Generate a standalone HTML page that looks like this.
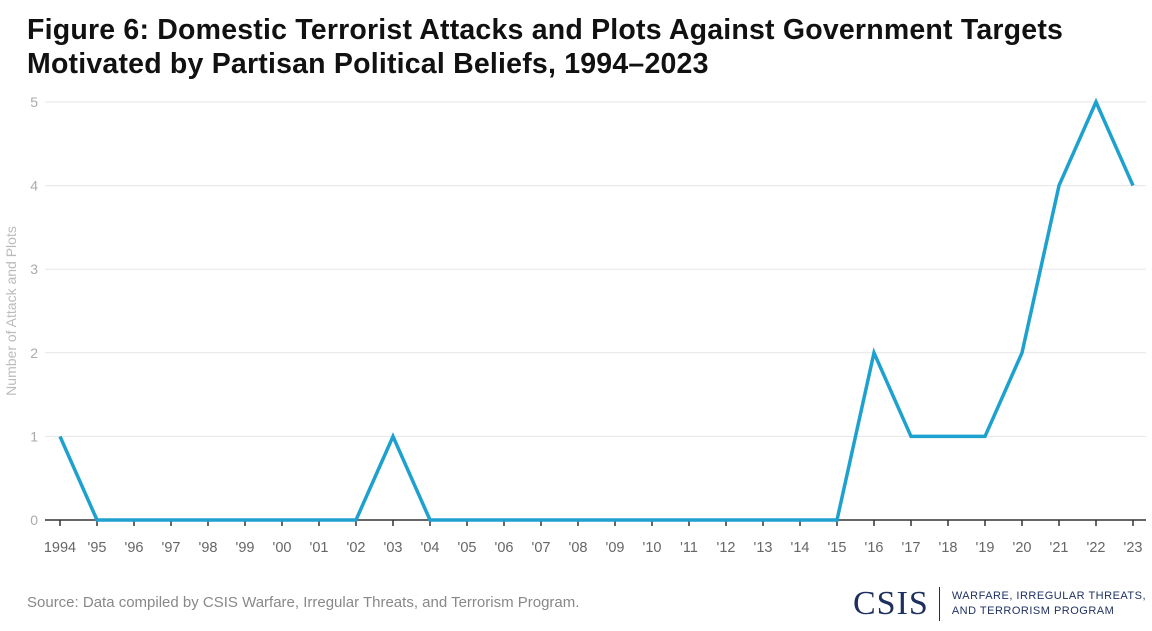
<!DOCTYPE html>
<html><head><meta charset="utf-8"><style>
body{margin:0;width:1152px;height:631px;background:#fff;font-family:"Liberation Sans",sans-serif;overflow:hidden;position:relative}
h1{position:absolute;left:27px;top:13px;margin:0;font-size:28.5px;line-height:34px;font-weight:bold;color:#111;letter-spacing:0.2px;white-space:nowrap}
#src{position:absolute;left:27px;top:594px;font-size:15px;color:#888}
#logo{position:absolute;left:853px;top:585px;display:flex;align-items:center;white-space:nowrap}
#csis{font-family:"Liberation Serif",serif;font-size:34px;color:#1d2f5e;letter-spacing:1px}
#bar{width:1px;height:34px;background:#1d2f5e;margin:0 12px 0 10px}
#prog{font-family:"Liberation Sans",sans-serif;font-size:11px;color:#1d2f5e;line-height:15px;letter-spacing:0.5px;white-space:nowrap}
</style></head><body>
<h1>Figure 6: Domestic Terrorist Attacks and Plots Against Government Targets<br>Motivated by Partisan Political Beliefs, 1994–2023</h1>
<svg id="chart" width="1152" height="580" style="position:absolute;left:0;top:0"></svg>
<div id="src">Source: Data compiled by CSIS Warfare, Irregular Threats, and Terrorism Program.</div>
<div id="logo"><span id="csis">CSIS</span><span id="bar"></span><span id="prog">WARFARE, IRREGULAR THREATS,<br>AND TERRORISM PROGRAM</span></div>
<script>
const years=[1994,1995,1996,1997,1998,1999,2000,2001,2002,2003,2004,2005,2006,2007,2008,2009,2010,2011,2012,2013,2014,2015,2016,2017,2018,2019,2020,2021,2022,2023];
const counts=[1,0,0,0,0,0,0,0,0,1,0,0,0,0,0,0,0,0,0,0,0,0,2,1,1,1,2,4,5,4];
const yTicks=[0,1,2,3,4,5];
const xLabels=["1994","'95","'96","'97","'98","'99","'00","'01","'02","'03","'04","'05","'06","'07","'08","'09","'10","'11","'12","'13","'14","'15","'16","'17","'18","'19","'20","'21","'22","'23"];
const NS="http://www.w3.org/2000/svg";
const svg=document.getElementById('chart');
const x=y=>60+(y-1994)*(1133-60)/29;
const yS=v=>520-v*(520-102)/5;
function el(t,a){const e=document.createElementNS(NS,t);for(const k in a)e.setAttribute(k,a[k]);svg.appendChild(e);return e;}
yTicks.forEach(t=>{
  if(t>0){const g=el('line',{x1:45,x2:1146,y1:yS(t),y2:yS(t),stroke:'#e6e6e6','stroke-width':1});
  
  }
  const tx=el('text',{x:38,y:yS(t)+5,'text-anchor':'end','font-size':14,fill:'#aaa','font-family':'Liberation Sans'});
  tx.textContent=t;
  
  
});
const yt=el('text',{transform:'translate(16,311) rotate(-90)','text-anchor':'middle','font-size':14,fill:'#bbb','font-family':'Liberation Sans'});
yt.textContent='Number of Attack and Plots';


const base=el('line',{x1:45,x2:1146,y1:520,y2:520,stroke:'#333','stroke-width':1.5});


years.forEach((yr,i)=>{
  const tk=el('line',{x1:x(yr),x2:x(yr),y1:520,y2:526,stroke:'#333','stroke-width':1.5});
  
  
  const tx=el('text',{x:x(yr),y:552,'text-anchor':'middle','font-size':14.5,fill:'#666','font-family':'Liberation Sans'});
  tx.textContent=xLabels[i];
  
  
});
const pts=years.map((yr,i)=>x(yr)+','+yS(counts[i])).join(' ');
const line=el('polyline',{points:pts,fill:'none',stroke:'#1ea1cf','stroke-width':3.5,'stroke-linejoin':'miter','stroke-linecap':'butt'});


</script>
</body></html>
